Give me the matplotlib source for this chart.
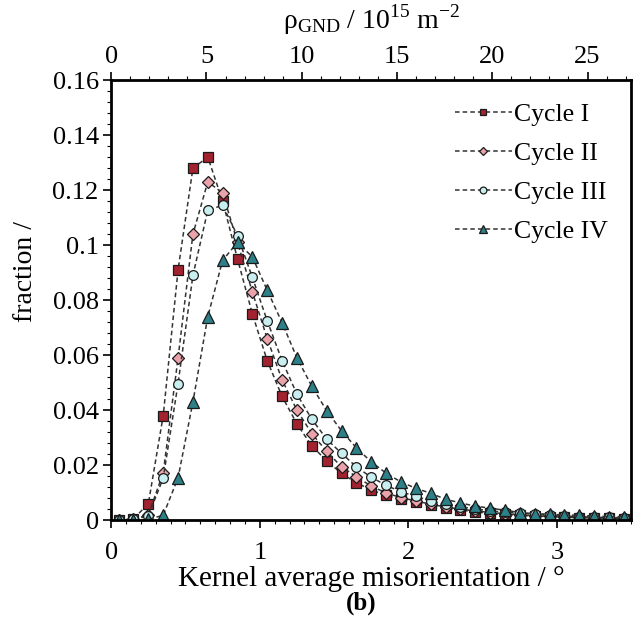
import numpy as np
import matplotlib
matplotlib.use("Agg")
import matplotlib.pyplot as plt
from matplotlib.ticker import MultipleLocator

plt.rcParams['font.family'] = ['Liberation Serif', 'DejaVu Serif']
plt.rcParams['mathtext.fontset'] = 'custom'
plt.rcParams['mathtext.rm'] = 'Liberation Serif'

kam = np.round(np.arange(0.05, 3.46, 0.1), 2)

cycle_1 = [0.0, 0.0005, 0.006, 0.038, 0.091, 0.128, 0.132, 0.116, 0.095, 0.075,
           0.058, 0.045, 0.035, 0.027, 0.0216, 0.017, 0.0136, 0.011, 0.009, 0.0076,
           0.0065, 0.0055, 0.0044, 0.0037, 0.003, 0.0025, 0.0021, 0.0018, 0.0015,
           0.0013, 0.0011, 0.0009, 0.0008, 0.0007, 0.0006]
cycle_2 = [0.0, 0.0003, 0.002, 0.0172, 0.059, 0.104, 0.123, 0.119, 0.101, 0.083,
           0.066, 0.051, 0.040, 0.0315, 0.025, 0.0194, 0.0158, 0.0124, 0.0099, 0.0082,
           0.007, 0.0058, 0.0048, 0.004, 0.0034, 0.0028, 0.0024, 0.002, 0.0017,
           0.0015, 0.0013, 0.0011, 0.0009, 0.0008, 0.0007]
cycle_3 = [0.0, 0.0003, 0.0016, 0.0153, 0.0497, 0.089, 0.1127, 0.1145, 0.1034, 0.0883,
           0.0725, 0.058, 0.0458, 0.0367, 0.0295, 0.0243, 0.0194, 0.0156, 0.0127, 0.0103,
           0.0087, 0.007, 0.0058, 0.0049, 0.0041, 0.0034, 0.0029, 0.0025, 0.0021,
           0.0018, 0.0015, 0.0013, 0.0011, 0.001, 0.0009]
cycle_4 = [0.0, 0.0, 0.0003, 0.0018, 0.0154, 0.043, 0.074, 0.0945, 0.101, 0.0957,
           0.0836, 0.0718, 0.059, 0.0487, 0.0398, 0.0325, 0.0263, 0.0212, 0.0171, 0.0139,
           0.0116, 0.0098, 0.0076, 0.0063, 0.0051, 0.0044, 0.0036, 0.0028, 0.0024,
           0.0022, 0.0019, 0.0018, 0.0015, 0.0013, 0.0013]

labels = ['Cycle I', 'Cycle II', 'Cycle III', 'Cycle IV']
markers = ['s', 'D', 'o', '^']
fills = ['#a3222f', '#eaa3ab', '#c9eef0', '#2d7f88']
sizes = [7, 6, 7, 8]

yticks = [0, 0.02, 0.04, 0.06, 0.08, 0.1, 0.12, 0.14, 0.16]
ytick_labels = ['0', '0.02', '0.04', '0.06', '0.08', '0.1', '0.12', '0.14', '0.16']
top_ticks = [0, 5, 10, 15, 20, 25]

# degree of KAM -> GND density (1e15 m^-2)
rho_factor = 7.8

fig = plt.figure(figsize=(6.39, 6.26), dpi=100)
ax = fig.add_axes([0.174, 0.169, 0.814, 0.703])

for y, lab, m, c, s in zip([cycle_1, cycle_2, cycle_3, cycle_4], labels, markers, fills, sizes):
    ax.plot(kam, y, linestyle=(0, (3, 2)), color='#333333', lw=1.1,
            marker=m, markersize=s, markerfacecolor=c, markeredgecolor='#1a1a1a',
            markeredgewidth=0.9, label=lab)

ax.set_xlim(0, 3.5)
ax.set_ylim(0, 0.16)
ax.xaxis.set_major_locator(MultipleLocator(1))
ax.xaxis.set_minor_locator(MultipleLocator(0.1))
ax.yaxis.set_minor_locator(MultipleLocator(0.004))
ax.set_yticks(yticks)
ax.set_yticklabels(ytick_labels)
ax.tick_params(which='major', direction='out', length=6, width=1.2, labelsize=19, pad=3)
ax.tick_params(axis='x', which='major', pad=10)
ax.tick_params(which='minor', direction='out', length=3, width=0.8)
for sp in ax.spines.values():
    sp.set_linewidth(2)

ax.set_xlabel('Kernel average misorientation / °', fontsize=21, labelpad=1)
ax.set_ylabel('fraction /', fontsize=20)
ax.yaxis.set_label_coords(-0.14, 0.565)

top = ax.secondary_xaxis('top', functions=(lambda x: x * rho_factor, lambda r: r / rho_factor))
top.set_xticks(top_ticks)
top.xaxis.set_minor_locator(MultipleLocator(1))
top.tick_params(which='major', direction='out', length=6, width=1.2, labelsize=19, pad=3)
top.tick_params(which='minor', direction='out', length=3, width=0.8)
top.set_xlabel(r'$\mathrm{\rho_{GND}}$ / 10$^{15}$ m$^{-2}$', fontsize=20, labelpad=12)

ax.legend(loc='upper right', frameon=False, fontsize=18.5, markerscale=0.7,
          handlelength=2.2, handletextpad=0.1, labelspacing=0.62,
          bbox_to_anchor=(1.0, 1.0))

fig.text(0.565, 0.026, '(b)', fontsize=18, fontweight='bold', ha='center')

fig.savefig('out.png', dpi=100)
